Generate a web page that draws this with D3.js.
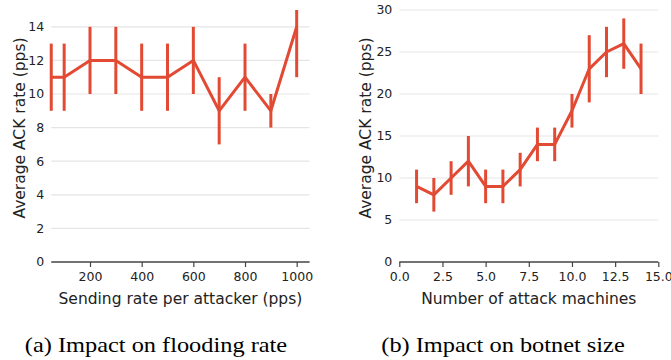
<!DOCTYPE html>
<html><head><meta charset="utf-8">
<script src="https://cdn.jsdelivr.net/npm/d3@7"></script>
<style>body{margin:0;background:#fff}svg{display:block}</style>
</head><body>
<svg id="c" width="671" height="360"></svg>
<script>
// Panel (a): flooding rate
const rateX = [50, 100, 200, 300, 400, 500, 600, 700, 800, 900, 1000];
const rateMean = [11, 11, 12, 12, 11, 11, 12, 9, 11, 9, 14];
const rateLow  = [9, 9, 10, 10, 9, 9, 10, 7, 9, 8, 11];
const rateHigh = [13, 13, 14, 14, 13, 13, 14, 11, 13, 10, 15];
const rateXTicks = [200, 400, 600, 800, 1000];
const rateYTicks = [0, 2, 4, 6, 8, 10, 12, 14];

// Panel (b): botnet size
const botX = [1, 2, 3, 4, 5, 6, 7, 8, 9, 10, 11, 12, 13, 14];
const botMean = [9, 8, 10, 12, 9, 9, 11, 14, 14, 18, 23, 25, 26, 23];
const botLow  = [7, 6, 8, 9, 7, 7, 9, 12, 12, 16, 19, 22, 23, 20];
const botHigh = [11, 10, 12, 15, 11, 11, 13, 16, 16, 20, 27, 28, 29, 26];
const botXTicks = [0, 2.5, 5, 7.5, 10, 12.5, 15];
const botYTicks = [0, 5, 10, 15, 20, 25, 30];

const yLabel = "Average ACK rate (pps)";
const captions = ["(a) Impact on flooding rate", "(b) Impact on botnet size"];

const color = "#E24A33";
const svg = d3.select("#c");

function panel(cfg) {
  const g = svg.append("g");
  const x = d3.scaleLinear().domain(cfg.xDomain).range(cfg.xRange);
  const y = d3.scaleLinear().domain(cfg.yDomain).range([262, 10]);
  // grid
  g.append("g").selectAll("line").data(cfg.yTicks.filter(d => d !== 0)).join("line")
    .attr("x1", cfg.xRange[0]).attr("x2", cfg.xRange[1])
    .attr("y1", d => y(d)).attr("y2", d => y(d))
    .attr("stroke", "#e5e5e5").attr("stroke-width", 1.2);
  // y tick labels
  g.append("g").selectAll("text").data(cfg.yTicks).join("text")
    .attr("x", cfg.xRange[0] - 7).attr("y", d => y(d)).attr("dy", "0.35em")
    .attr("text-anchor", "end").attr("font-family", "DejaVu Sans").attr("font-size", 12.5)
    .attr("fill", "#222").text(cfg.yFmt);
  // x axis
  const ax = g.append("g").attr("transform", `translate(0,${y(0)})`)
    .call(d3.axisBottom(x).tickValues(cfg.xTicks).tickFormat(cfg.xFmt).tickSize(5).tickPadding(5));
  ax.select(".domain").attr("stroke", "#444").attr("stroke-width", 1.6)
    .attr("d", `M${cfg.xRange[0]},0H${cfg.xRange[1]}`);
  ax.selectAll(".tick line").attr("stroke", "#444").attr("stroke-width", 1.2);
  ax.selectAll(".tick text").attr("font-family", "DejaVu Sans").attr("font-size", 12.5).attr("fill", "#222");
  // axis titles
  g.append("text").attr("x", (cfg.xRange[0] + cfg.xRange[1]) / 2).attr("y", 304)
    .attr("text-anchor", "middle").attr("font-family", "DejaVu Sans").attr("font-size", 15.5)
    .attr("fill", "#222").text(cfg.xTitle);
  g.append("text").attr("transform", `translate(${cfg.yTitleX},128) rotate(-90)`)
    .attr("text-anchor", "middle").attr("font-family", "DejaVu Sans").attr("font-size", 15.5)
    .attr("fill", "#222").text(yLabel);
  // error bars
  g.append("g").selectAll("line").data(cfg.xs).join("line")
    .attr("x1", d => x(d)).attr("x2", d => x(d))
    .attr("y1", (d, i) => y(cfg.lo[i])).attr("y2", (d, i) => y(cfg.hi[i]))
    .attr("stroke", color).attr("stroke-width", 3);
  // line
  const line = d3.line().x(d => x(d[0])).y(d => y(d[1]));
  g.append("path").datum(cfg.xs.map((d, i) => [d, cfg.mean[i]]))
    .attr("d", line).attr("fill", "none").attr("stroke", color)
    .attr("stroke-width", 3).attr("stroke-linejoin", "round");
  // caption
  svg.append("text").attr("transform", `translate(${cfg.capX},352) scale(1.16,1)`)
    .attr("text-anchor", "middle")
    .attr("font-family", "Liberation Serif").attr("font-size", 21).attr("fill", "#000")
    .text(cfg.caption);
}

panel({
  xs: rateX, mean: rateMean, lo: rateLow, hi: rateHigh,
  xDomain: [50, 1050], xRange: [51.25, 309.6], yDomain: [0, 15],
  xTicks: rateXTicks, yTicks: rateYTicks, xFmt: d3.format("d"), yFmt: d3.format("d"),
  xTitle: "Sending rate per attacker (pps)", yTitleX: 25, caption: captions[0], capX: 156
});
panel({
  xs: botX, mean: botMean, lo: botLow, hi: botHigh,
  xDomain: [0, 15], xRange: [399.3, 658.3], yDomain: [0, 30],
  xTicks: botXTicks, yTicks: botYTicks, xFmt: d3.format(".1f"), yFmt: d3.format("d"),
  xTitle: "Number of attack machines", yTitleX: 371, caption: captions[1], capX: 503
});
</script>
</body></html>
